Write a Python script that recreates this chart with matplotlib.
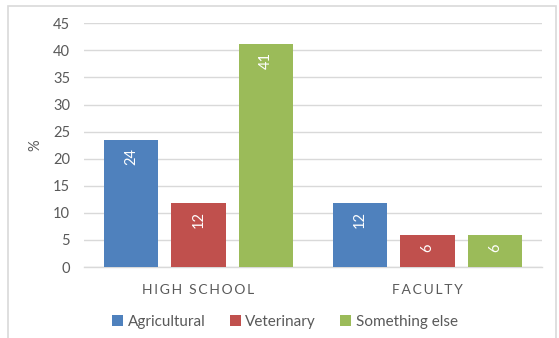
import matplotlib
matplotlib.use("Agg")
import matplotlib.pyplot as plt
from matplotlib.patches import Rectangle
import numpy as np

plt.rcParams['font.family'] = ['Lato', 'DejaVu Sans']

categories = ["HIGH SCHOOL", "FACULTY"]
series_names = ["Agricultural", "Veterinary", "Something else"]
agricultural = [23.5, 11.8]
veterinary = [11.8, 5.9]
something_else = [41.2, 5.9]
y_ticks = [0, 5, 10, 15, 20, 25, 30, 35, 40, 45]

colors = ["#4F81BD", "#C0504D", "#9BBB59"]
text_gray = "#595959"
grid_gray = "#D9D9D9"

fig = plt.figure(figsize=(5.59, 3.38), dpi=100)
ax = fig.add_axes([0.1503, 0.210, 0.8193, 0.721])

# chart frame
fig.patches.append(Rectangle((8 / 559, -0.01), 548 / 559, 1 - 6 / 338 + 0.01,
                             transform=fig.transFigure, fill=False,
                             edgecolor=grid_gray, linewidth=1.2))

x = np.arange(len(categories))
width = 0.236
step = 0.294
handles = []
for i, (vals, name, c) in enumerate(zip([agricultural, veterinary, something_else],
                                         series_names, colors)):
    pos = x + (i - 1) * step
    bars = ax.bar(pos, vals, width=width, color=c, label=name, zorder=3)
    handles.append(bars)
    for xp, v in zip(pos, vals):
        ax.annotate(f"{v:.0f}", xy=(xp, v), xytext=(0, -6), textcoords="offset points",
                    ha="center", va="top", rotation=90, color="white", fontsize=10.5,
                    zorder=4)

ax.set_xlim(-0.5, 1.5)
ax.set_ylim(0, 45)
ax.set_yticks(y_ticks)
ax.yaxis.grid(True, color=grid_gray, linewidth=1, zorder=0)
ax.set_axisbelow(True)
for s in ["top", "right", "left"]:
    ax.spines[s].set_visible(False)
ax.spines["bottom"].set_color(grid_gray)
ax.spines["bottom"].set_linewidth(1)
ax.tick_params(axis="both", length=0, colors=text_gray, labelsize=10.5)
ax.tick_params(axis="y", pad=10)
ax.set_xticks(x)
ax.set_xticklabels(["\u2009".join(list(c)) for c in categories], fontsize=10)
ax.tick_params(axis="x", pad=12)
ax.set_ylabel("%", color=text_gray, fontsize=10.5, labelpad=8)

fig.legend(handles=handles, labels=series_names, loc="center", ncol=3,
           bbox_to_anchor=(0.510, 0.047), frameon=False, fontsize=11,
           labelcolor=text_gray, handlelength=0.7, handleheight=0.7,
           handletextpad=0.3, columnspacing=1.6)

fig.savefig("out.png", dpi=100)
